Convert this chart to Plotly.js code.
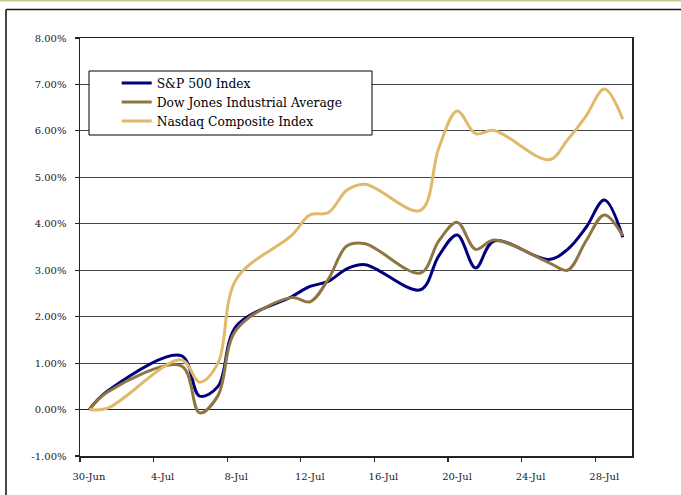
<!DOCTYPE html>
<html>
<head>
<meta charset="utf-8">
<script src="https://cdn.plot.ly/plotly-3.0.1.min.js"></script>
<style>html,body{margin:0;padding:0;background:#fff;}#chart{width:681px;height:495px;}</style>
</head>
<body>
<div id="chart"></div>
<script>
// Trading days (July 2005)
const dates = ['2005-06-30','2005-07-01','2005-07-05','2005-07-06','2005-07-07','2005-07-08',
  '2005-07-11','2005-07-12','2005-07-13','2005-07-14','2005-07-15',
  '2005-07-18','2005-07-19','2005-07-20','2005-07-21','2005-07-22',
  '2005-07-25','2005-07-26','2005-07-27','2005-07-28','2005-07-29'];
// Cumulative % change
const sp500  = [0.00, 0.40, 1.16, 0.29, 0.50, 1.80, 2.43, 2.65, 2.76, 3.03, 3.12, 2.58, 3.31, 3.76, 3.05, 3.63, 3.23, 3.45, 3.92, 4.51, 3.71];
const dow    = [0.00, 0.38, 0.94, -0.07, 0.30, 1.72, 2.41, 2.32, 2.81, 3.52, 3.57, 2.94, 3.63, 4.03, 3.45, 3.65, 3.16, 3.00, 3.63, 4.19, 3.74];
const nasdaq = [0.00, 0.03, 1.07, 0.59, 1.00, 2.81, 3.75, 4.19, 4.24, 4.72, 4.85, 4.29, 5.63, 6.43, 5.94, 6.01, 5.38, 5.81, 6.32, 6.90, 6.25];
const seriesNames = ['S&P 500 Index', 'Dow Jones Industrial Average', 'Nasdaq Composite Index'];
const yTickVals = [-1, 0, 1, 2, 3, 4, 5, 6, 7, 8];
const yTickText = ['-1.00%', '0.00%', '1.00%', '2.00%', '3.00%', '4.00%', '5.00%', '6.00%', '7.00%', '8.00%'];

// points sit in the middle of each day slot
const xs = dates.map(d => d + ' 12:00');

const colors = ['#00007f', '#8e7642', '#e0b96c'];
const ys = [sp500, dow, nasdaq];
const traces = ys.map((y, i) => ({
  x: xs, y: y, name: seriesNames[i], type: 'scatter', mode: 'lines',
  line: {color: colors[i], width: 3, shape: 'spline', smoothing: 1},
  hoverinfo: 'skip'
}));

const L = 80, R = 49, T = 38, B = 39, W = 681, H = 495;
const pw = W - L - R, ph = H - T - B;
const px = v => (v - L) / pw;
const py = v => (H - B - v) / ph;

const tickFont = {family: 'DejaVu Serif', size: 10, color: '#222'};

const layout = {
  width: W, height: H,
  margin: {l: L, r: R, t: T, b: B},
  paper_bgcolor: '#fff', plot_bgcolor: '#fff',
  showlegend: true,
  legend: {
    x: px(116.7), y: py(68.5), xanchor: 'left', yanchor: 'top',
    bgcolor: 'rgba(0,0,0,0)', borderwidth: 0,
    font: {family: 'DejaVu Serif', size: 12.3, color: '#000'},
    tracegroupgap: 0
  },
  xaxis: {
    type: 'date',
    range: ['2005-06-30', '2005-07-30'],
    tickmode: 'linear', tick0: '2005-06-30', dtick: 4 * 86400000,
    tickformat: '%-d-%b',
    ticks: 'outside', ticklen: 4, tickcolor: '#222', tickwidth: 1.2,
    ticklabelshift: 9, ticklabelstandoff: 6,
    showgrid: false, zeroline: false,
    showline: true, linecolor: '#222', linewidth: 1.5, mirror: true,
    tickfont: tickFont, fixedrange: true
  },
  yaxis: {
    range: [-1, 8],
    tickmode: 'array', tickvals: yTickVals, ticktext: yTickText,
    ticks: 'outside', ticklen: 4, tickcolor: '#222', tickwidth: 1.2,
    ticklabelstandoff: 6,
    showgrid: true, gridcolor: '#444', gridwidth: 1,
    zeroline: true, zerolinecolor: '#222', zerolinewidth: 1,
    showline: true, linecolor: '#222', linewidth: 1.5, mirror: true,
    tickfont: tickFont, fixedrange: true
  },
  shapes: [
    // thin olive line across the very top
    {type: 'line', xref: 'paper', yref: 'paper', x0: px(-5), x1: px(690), y0: py(0.8), y1: py(0.8),
     line: {color: '#c8c78e', width: 1.6}, layer: 'above'},
    // outer frame (top and left)
    {type: 'line', xref: 'paper', yref: 'paper', x0: px(6), x1: px(690), y0: py(9.5), y1: py(9.5),
     line: {color: '#1a1a1a', width: 1.6}, layer: 'above'},
    {type: 'line', xref: 'paper', yref: 'paper', x0: px(6), x1: px(6), y0: py(9.5), y1: py(500),
     line: {color: '#1a1a1a', width: 1.6}, layer: 'above'},
    // legend box
    {type: 'rect', xref: 'paper', yref: 'paper', x0: px(89), x1: px(372), y0: py(135), y1: py(71),
     fillcolor: '#fff', line: {color: '#000', width: 1}, layer: 'above'}
  ]
};

Plotly.newPlot('chart', traces, layout, {displayModeBar: false, staticPlot: true});
</script>
</body>
</html>
